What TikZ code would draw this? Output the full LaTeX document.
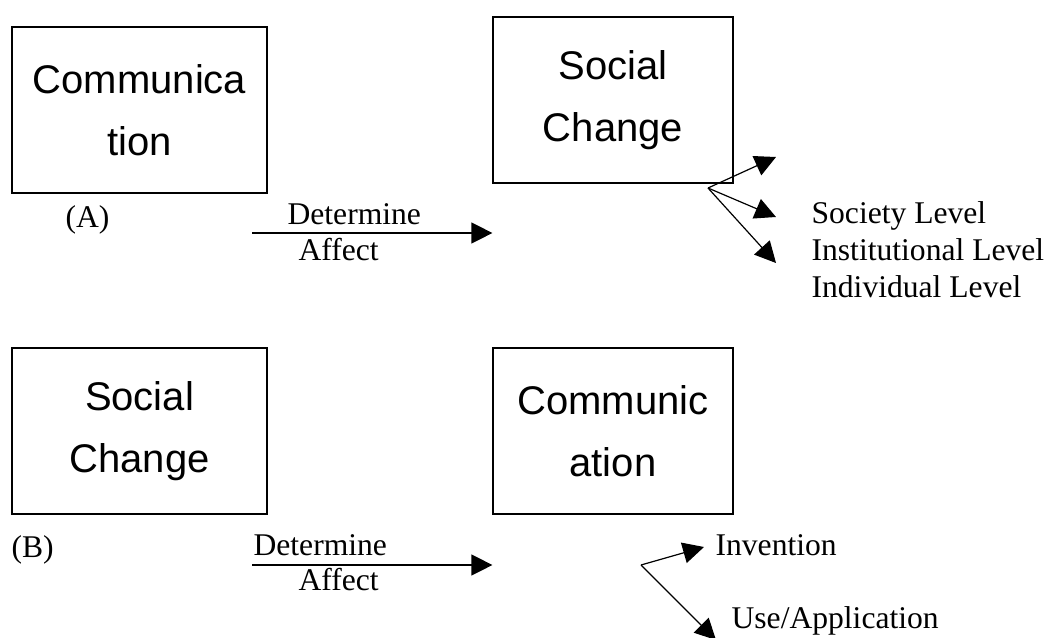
\documentclass[tikz,border=0pt]{standalone}
\usepackage{fontspec}
\setmainfont{Liberation Serif}
\newfontfamily\boxfont{Liberation Sans}
\usetikzlibrary{arrows.meta}
\tikzset{
  bigbox/.style={draw, minimum width=255pt, minimum height=166pt, inner sep=0pt,
    align=center, font=\boxfont\fontsize{40}{62}\selectfont},
  lbl/.style={anchor=base west, inner sep=0pt, font=\fontsize{31.6}{37}\selectfont},
}
\begin{document}
\begin{tikzpicture}[>={Triangle[length=21pt,width=21pt]}, x=1pt, y=-1pt, line width=1.2pt]
    \useasboundingbox (0,0) rectangle (1048,637);
    % (A)
    \node [bigbox] (commA) at (139.5,110) {Communica\\tion};
    \node [bigbox, minimum width=240pt] (socA) at (613,100) {Social\\Change};
    \node [lbl] (labA) at (65,227) {(A)};
    \coordinate (fromA) at (252,233);
    \coordinate (toA) at (socA.west |- fromA);
    \draw [->] (fromA) -- (toA);
    \node [lbl] (detA) at (287,224) {Determine};
    \node [lbl] (affA) at (298,260) {Affect};
    \coordinate (forkA) at (708,188);
    \coordinate (upA) at (776,157);
    \coordinate (midA) at (776,217);
    \coordinate (lowA) at (776,263);
    \draw [->] (forkA) -- (upA);
    \draw [->] (forkA) -- (midA);
    \draw [->] (forkA) -- (lowA);
    \node [lbl] (society) at (811,223) {Society Level};
    \node [lbl] (institution) at (811,260) {Institutional Level};
    \node [lbl] (individual) at (811,297) {Individual Level};
    % (B)
    \node [bigbox] (socB) at (139.5,431) {Social\\Change};
    \node [bigbox, minimum width=240pt] (commB) at (613,431) {Communic\\ation};
    \node [lbl] (labB) at (11,557) {(B)};
    \coordinate (fromB) at (252,565);
    \coordinate (toB) at (commB.west |- fromB);
    \draw [->] (fromB) -- (toB);
    \node [lbl] (detB) at (253,555) {Determine};
    \node [lbl] (affB) at (298,590) {Affect};
    \coordinate (forkB) at (641,565);
    \coordinate (invTip) at (704,547);
    \coordinate (useTip) at (716,640);
    \draw [->] (forkB) -- (invTip);
    \draw [->] (forkB) -- (useTip);
    \node [lbl] (invention) at (715,555) {Invention};
    \node [lbl] (use) at (731,628) {Use/Application};
\end{tikzpicture}
\end{document}
